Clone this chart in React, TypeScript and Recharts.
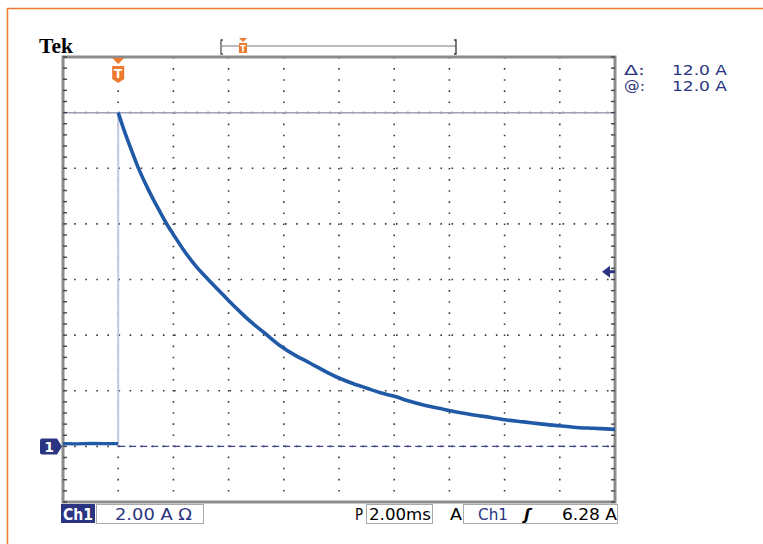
import React from 'react';
import {
  LineChart,
  Line,
  XAxis,
  YAxis,
  CartesianGrid,
  ReferenceLine,
  ReferenceArea,
  ReferenceDot,
} from 'recharts';

// ---- data (time in ms relative to trigger, current in A) ----
const preTriggerTime = [-2, -1.5, -1, -0.5, 0];
const preTriggerCurrent = [0.1, 0.09, 0.11, 0.1, 0.1];

const decayTime = [
  0, 0.25, 0.5, 0.76, 1.0, 1.28, 1.5, 1.78, 2.0, 2.37, 2.8, 3.26, 3.8, 4.3, 4.78,
  5.3, 5.87, 6.4, 6.96, 7.5, 8.02, 8.5, 9.01, 9.5, 10.04, 10.5, 11.06, 11.67,
  12.03, 12.87, 13.5, 14.08, 14.7, 15.29, 16.0, 16.5, 17.2, 17.83, 18,
];
const decayCurrent = [
  12.0, 11.26, 10.6, 9.94, 9.42, 8.86, 8.46, 7.96, 7.62, 7.06, 6.5, 6.0, 5.45,
  4.95, 4.5, 4.08, 3.62, 3.28, 2.99, 2.7, 2.45, 2.26, 2.09, 1.93, 1.79, 1.64,
  1.49, 1.36, 1.28, 1.13, 1.04, 0.95, 0.88, 0.81, 0.74, 0.69, 0.65, 0.62, 0.61,
];

const majorTimeTicks = [-2, 0, 2, 4, 6, 8, 10, 12, 14, 16, 18];
const majorCurrentTicks = [-2, 0, 2, 4, 6, 8, 10, 12, 14];
const minorTimeTicks = Array.from({ length: 51 }, (_, i) => -2 + i * 0.4);
const minorCurrentTicks = Array.from({ length: 41 }, (_, i) => -2 + i * 0.4);

const timeDomain = [-2, 18];
const currentDomain = [-2, 14];
const cursorCurrent = 12.0;
const triggerLevel = 6.28;

// readouts
const deltaLabel = 'Δ:';
const deltaValue = '12.0 A';
const atLabel = '@:';
const atValue = '12.0 A';
const chLabel = 'Ch1';
const scaleLabel = '2.00 A Ω';
const timeBaseLabel = '2.00ms';
const trigChLabel = 'Ch1';
const trigEdge = 'ʃ';
const trigLevelLabel = '6.28 A';

const preData = preTriggerTime.map((t, i) => ({ t, a: preTriggerCurrent[i] }));
const decayData = decayTime.map((t, i) => ({ t, a: decayCurrent[i] }));

const NAVY = '#2b3480';
const TRACE = '#2059a6';
const ORANGE = '#ee7a2f';
const FONT = '"DejaVu Sans", sans-serif';

const TriggerMarker = (p: any) => {
  const { cx, cy } = p;
  return (
    <g>
      <polygon points={`${cx - 6},${cy + 1} ${cx + 6},${cy + 1} ${cx},${cy + 7}`} fill={ORANGE} />
      <path
        d={`M${cx - 6},${cy + 9} L${cx + 6},${cy + 9} L${cx + 6},${cy + 22} L${cx},${cy + 26} L${cx - 6},${cy + 22} Z`}
        fill={ORANGE}
      />
      <text x={cx} y={cy + 21} textAnchor="middle" fill="#fff" fontSize={12} fontWeight="bold" fontFamily={FONT}>
        T
      </text>
    </g>
  );
};

const GroundMarker = (p: any) => {
  const { cx, cy } = p;
  return (
    <g>
      <path
        d={`M${cx - 21},${cy - 8} L${cx - 6},${cy - 8} L${cx - 1},${cy} L${cx - 6},${cy + 8} L${cx - 21},${cy + 8} Q${cx - 23},${cy + 8} ${cx - 23},${cy + 6} L${cx - 23},${cy - 6} Q${cx - 23},${cy - 8} ${cx - 21},${cy - 8} Z`}
        fill={NAVY}
      />
      <text x={cx - 14} y={cy + 5.5} textAnchor="middle" fill="#fff" fontSize={14} fontWeight="bold" fontFamily={FONT}>
        1
      </text>
    </g>
  );
};

const LevelMarker = (p: any) => {
  const { cx, cy } = p;
  return (
    <g>
      <polygon points={`${cx - 13},${cy} ${cx - 5},${cy - 6} ${cx - 5},${cy + 6}`} fill={NAVY} />
      <rect x={cx - 6} y={cy - 1.5} width={6} height={3} fill={NAVY} />
    </g>
  );
};

const blank = () => '';

export default function App() {
  return (
    <div style={{ position: 'absolute', left: 0, top: 0, width: 763, height: 544, background: '#fff' }}>
      <LineChart
        width={763}
        height={544}
        margin={{ top: 57, left: 63, right: 148, bottom: 42 }}
      >
        <XAxis xAxisId="main" type="number" dataKey="t" domain={timeDomain} ticks={majorTimeTicks} hide allowDataOverflow />
        <YAxis yAxisId="main" type="number" domain={currentDomain} ticks={majorCurrentTicks} hide allowDataOverflow />
        <XAxis
          xAxisId="top"
          orientation="top"
          type="number"
          domain={timeDomain}
          ticks={minorTimeTicks}
          mirror
          axisLine={false}
          tickSize={4}
          tickLine={{ stroke: '#444', strokeWidth: 1.4 }}
          tickFormatter={blank}
          allowDataOverflow
        />
        <XAxis
          xAxisId="bottom"
          orientation="bottom"
          type="number"
          domain={timeDomain}
          ticks={minorTimeTicks}
          mirror
          axisLine={false}
          tickSize={4}
          tickLine={{ stroke: '#444', strokeWidth: 1.4 }}
          tickFormatter={blank}
          allowDataOverflow
        />
        <YAxis
          yAxisId="left"
          orientation="left"
          type="number"
          domain={currentDomain}
          ticks={minorCurrentTicks}
          mirror
          axisLine={false}
          tickSize={4}
          tickLine={{ stroke: '#444', strokeWidth: 1.4 }}
          tickFormatter={blank}
          allowDataOverflow
        />
        <YAxis
          yAxisId="right"
          orientation="right"
          type="number"
          domain={currentDomain}
          ticks={minorCurrentTicks}
          mirror
          axisLine={false}
          tickSize={4}
          tickLine={{ stroke: '#444', strokeWidth: 1.4 }}
          tickFormatter={blank}
          allowDataOverflow
        />
        <CartesianGrid
          xAxisId="main"
          yAxisId="main"
          stroke="#3a3a3a"
          strokeWidth={1.6}
          strokeDasharray="1.6 9.5"
        />
        <ReferenceLine
          xAxisId="main"
          yAxisId="main"
          y={cursorCurrent}
          stroke="#9da2b8"
          strokeWidth={1.5}
        />
        <ReferenceLine
          xAxisId="main"
          yAxisId="main"
          segment={[{ x: 0, y: 0 }, { x: timeDomain[1], y: 0 }]}
          stroke="#3d4794"
          strokeWidth={1.4}
          strokeDasharray="7 4"
        />
        <ReferenceLine
          xAxisId="main"
          yAxisId="main"
          segment={[{ x: 0, y: preTriggerCurrent[preTriggerCurrent.length - 1] }, { x: 0, y: decayCurrent[0] }]}
          stroke="#c3c9df"
          strokeWidth={2}
        />
        <Line
          xAxisId="main"
          yAxisId="main"
          data={preData}
          dataKey="a"
          type="linear"
          stroke={TRACE}
          strokeWidth={3.2}
          dot={false}
          isAnimationActive={false}
        />
        <Line
          xAxisId="main"
          yAxisId="main"
          data={decayData}
          dataKey="a"
          type="monotone"
          stroke={TRACE}
          strokeWidth={3.6}
          dot={false}
          isAnimationActive={false}
        />
        <ReferenceArea
          xAxisId="main"
          yAxisId="main"
          x1={timeDomain[0]}
          x2={timeDomain[1]}
          y1={currentDomain[0]}
          y2={currentDomain[1]}
          fill="none"
          fillOpacity={0}
          stroke="#8c8c8c"
          strokeWidth={3}
          ifOverflow="visible"
        />
        <ReferenceDot xAxisId="main" yAxisId="main" x={0} y={currentDomain[1]} ifOverflow="visible" shape={TriggerMarker} />
        <ReferenceDot xAxisId="main" yAxisId="main" x={timeDomain[0]} y={0} ifOverflow="visible" shape={GroundMarker} />
        <ReferenceDot xAxisId="main" yAxisId="main" x={timeDomain[1]} y={triggerLevel} ifOverflow="visible" shape={LevelMarker} />
      </LineChart>

      <svg
        width={763}
        height={544}
        style={{ position: 'absolute', left: 0, top: 0, pointerEvents: 'none' }}
      >
        {/* orange frame */}
        <line x1={7} y1={8.5} x2={763} y2={8.5} stroke={ORANGE} strokeWidth={1.5} />
        <line x1={7.5} y1={8} x2={7.5} y2={544} stroke={ORANGE} strokeWidth={1.5} />

        {/* Tek */}
        <text x={39} y={53} fontFamily='"Liberation Serif", serif' fontWeight="bold" fontSize={21} fill="#000" textLength={34} lengthAdjust="spacingAndGlyphs">
          Tek
        </text>

        {/* record bracket */}
        <path d="M223,40 L221,40 L221,54 L223,54" fill="none" stroke="#555" strokeWidth={1.3} />
        <line x1={222} y1={46} x2={456} y2={46} stroke="#777" strokeWidth={1.2} />
        <path d="M454,40 L456,40 L456,54 L454,54" fill="none" stroke="#333" strokeWidth={1.3} />
        <polygon points="239,38 247,38 243,42" fill={ORANGE} />
        <rect x={239} y={43} width={8} height={10} fill={ORANGE} />
        <text x={243} y={52} textAnchor="middle" fontSize={8} fontWeight="bold" fill="#fff" fontFamily={FONT}>T</text>

        {/* readouts */}
        <g fontFamily={FONT} fontSize={14} fill={NAVY}>
          <text x={624} y={75} textLength={21} lengthAdjust="spacingAndGlyphs">{deltaLabel}</text>
          <text x={672} y={75} textLength={55} lengthAdjust="spacingAndGlyphs">{deltaValue}</text>
          <text x={624} y={91} textLength={21} lengthAdjust="spacingAndGlyphs">{atLabel}</text>
          <text x={672} y={91} textLength={55} lengthAdjust="spacingAndGlyphs">{atValue}</text>
        </g>

        {/* status bar */}
        <rect x={61} y={504} width={34} height={19} fill={NAVY} />
        <text x={63} y={520} fontFamily={FONT} fontSize={16} fontWeight="bold" fill="#fff" textLength={30} lengthAdjust="spacingAndGlyphs">{chLabel}</text>
        <rect x={96.5} y={504.5} width={107} height={19} fill="#fff" stroke="#aaa" strokeWidth={1} />
        <text x={115} y={520} fontFamily={FONT} fontSize={16} fill={NAVY} textLength={77} lengthAdjust="spacingAndGlyphs">{scaleLabel}</text>

        <text x={355} y={520} fontFamily={FONT} fontSize={16} fill="#000" textLength={8} lengthAdjust="spacingAndGlyphs">P</text>
        <rect x={366.5} y={504.5} width={66} height={19} fill="#fff" stroke="#aaa" strokeWidth={1} />
        <text x={369} y={520} fontFamily={FONT} fontSize={16} fill="#000" textLength={62} lengthAdjust="spacingAndGlyphs">{timeBaseLabel}</text>

        <text x={450} y={520} fontFamily={FONT} fontSize={16} fill="#000" textLength={12} lengthAdjust="spacingAndGlyphs">A</text>
        <rect x={463.5} y={504.5} width={154} height={19} fill="#fff" stroke="#aaa" strokeWidth={1} />
        <text x={478} y={520} fontFamily={FONT} fontSize={16} fill={NAVY} textLength={30} lengthAdjust="spacingAndGlyphs">{trigChLabel}</text>
        <text x={524} y={520} fontFamily={FONT} fontSize={16} fontWeight="bold" fontStyle="italic" fill="#000">{trigEdge}</text>
        <text x={562} y={520} fontFamily={FONT} fontSize={16} fill="#000" textLength={55} lengthAdjust="spacingAndGlyphs">{trigLevelLabel}</text>
      </svg>
    </div>
  );
}
